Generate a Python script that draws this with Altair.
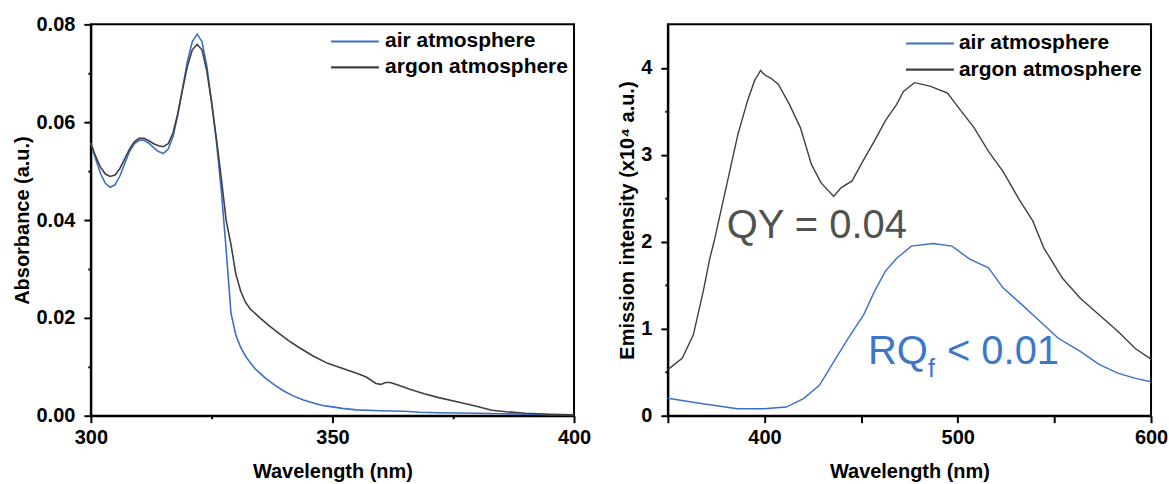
import altair as alt
import pandas as pd

# ---------------- data: absorbance (left) ----------------
air_abs_wl = [300, 301, 302, 303, 304, 305, 306, 307, 308, 309, 310, 311, 312, 313, 314, 315, 316, 317,
              318, 319, 320, 321, 322, 323, 324, 325, 326, 327, 328, 329, 330, 331, 332, 333, 334, 335,
              336, 337, 338, 340, 342, 344, 346, 348, 350, 352, 355, 360, 365, 368, 372, 380, 385, 390,
              395, 400]
air_abs_val = [0.0557, 0.0525, 0.0495, 0.0475, 0.0467, 0.0472, 0.0490, 0.0515, 0.0540, 0.0556, 0.0563,
               0.0563, 0.0557, 0.0548, 0.0540, 0.0536, 0.0545, 0.0570, 0.0615, 0.0670, 0.0725, 0.0765,
               0.0780, 0.0765, 0.0715, 0.0640, 0.0560, 0.0460, 0.0340, 0.0210, 0.0165, 0.0140, 0.0122,
               0.0108, 0.0096, 0.0087, 0.0078, 0.0070, 0.0063, 0.0050, 0.0040, 0.0032, 0.0026, 0.0021,
               0.0018, 0.0015, 0.0012, 0.0010, 0.0009, 0.0007, 0.0006, 0.0005, 0.0004, 0.0003, 0.0002,
               0.0002]

argon_abs_wl = [300, 301, 302, 303, 304, 305, 306, 307, 308, 309, 310, 311, 312, 313, 314, 315, 316, 317,
                318, 319, 320, 321, 322, 323, 324, 325, 326, 327, 328, 329, 330, 331, 332, 333, 335, 337,
                339, 341, 343, 346, 349, 352, 355, 357, 359, 360, 361, 362, 364, 366, 369, 372, 376, 380,
                383, 386, 390, 395, 400]
argon_abs_val = [0.0557, 0.0530, 0.0508, 0.0494, 0.0489, 0.0492, 0.0505, 0.0525, 0.0545, 0.0560, 0.0567,
                 0.0567, 0.0562, 0.0556, 0.0552, 0.0550, 0.0556, 0.0578, 0.0618, 0.0668, 0.0715, 0.0748,
                 0.0759, 0.0748, 0.0705, 0.0640, 0.0565, 0.0485, 0.0400, 0.0350, 0.0290, 0.0255, 0.0232,
                 0.0218, 0.0200, 0.0183, 0.0168, 0.0153, 0.0140, 0.0122, 0.0107, 0.0097, 0.0087, 0.0079,
                 0.0066, 0.0064, 0.0068, 0.0068, 0.0061, 0.0054, 0.0045, 0.0037, 0.0028, 0.0019, 0.0011,
                 0.0008, 0.0005, 0.0003, 0.0002]

# ---------------- data: emission (right), x10^4 a.u. ----------------
air_em_wl = [350, 367.2, 386, 399.8, 411.2, 420.4, 428.4, 435.8, 443.3, 451.3, 456.9, 462.5, 468.4,
             476, 487.3, 497, 506.2, 515.9, 523.4, 533, 542.8, 552, 563.4, 573.1, 582.8, 592, 600]
air_em_val = [0.20, 0.14, 0.08, 0.08, 0.10, 0.20, 0.35, 0.62, 0.89, 1.16, 1.43, 1.66, 1.81,
              1.95, 1.98, 1.95, 1.80, 1.70, 1.47, 1.28, 1.08, 0.89, 0.74, 0.59, 0.49, 0.43, 0.39]

argon_em_wl = [350, 357.4, 363.2, 368.3, 371.7, 373.9, 378.6, 382.4, 386.3, 391.2, 394.8, 398, 400,
               403.4, 407.2, 412.9, 418.6, 424.3, 429.2, 435.8, 439.6, 445.3, 451, 456.9, 462.5, 468.4,
               471.9, 477.6, 485.6, 494.7, 500.5, 508.5, 515.9, 523.4, 531.4, 538.8, 544.5, 554.2,
               563.4, 573.1, 582.8, 592, 600]
argon_em_val = [0.53, 0.66, 0.93, 1.43, 1.81, 2.00, 2.47, 2.85, 3.24, 3.62, 3.85, 3.97, 3.92,
                3.88, 3.81, 3.58, 3.31, 2.89, 2.68, 2.52, 2.62, 2.70, 2.93, 3.16, 3.39, 3.58,
                3.73, 3.83, 3.79, 3.71, 3.54, 3.31, 3.04, 2.81, 2.50, 2.24, 1.93, 1.58,
                1.35, 1.16, 0.97, 0.77, 0.65]

series_names = ["air atmosphere", "argon atmosphere"]
series_colors = ["#3b6fc6", "#404040"]
legend_colors = ["#3b6fc6", "#555555"]

FONT = "Liberation Sans"


def series_df(wl_air, v_air, wl_ar, v_ar):
    a = pd.DataFrame({"wl": wl_air, "v": v_air, "series": series_names[0]})
    b = pd.DataFrame({"wl": wl_ar, "v": v_ar, "series": series_names[1]})
    return pd.concat([a, b], ignore_index=True)


abs_df = series_df(air_abs_wl, air_abs_val, argon_abs_wl, argon_abs_val)
em_df = series_df(air_em_wl, air_em_val, argon_em_wl, argon_em_val)

color_enc = alt.Color("series:N", scale=alt.Scale(domain=series_names, range=series_colors), legend=None)
legend_color_enc = alt.Color("series:N", scale=alt.Scale(domain=series_names, range=legend_colors), legend=None)


def tick_size(test):
    return {"condition": {"test": test, "value": 7}, "value": 3}


# ---------------- left panel ----------------
xl = alt.X("wl:Q", scale=alt.Scale(domain=[300, 400], nice=False, zero=False),
           axis=alt.Axis(title="Wavelength (nm)", values=[300, 325, 350, 375, 400], format="d",
                         labelExpr="datum.value % 50 === 0 ? datum.label : ''",
                         tickSize=tick_size("datum.value % 50 === 0"), labelOverlap=False,
                         labelFlush=False, labelPadding=5, titlePadding=14))
yl = alt.Y("v:Q", scale=alt.Scale(domain=[0, 0.08], nice=False, zero=False),
           axis=alt.Axis(title="Absorbance (a.u.)",
                         values=[0, 0.01, 0.02, 0.03, 0.04, 0.05, 0.06, 0.07, 0.08], format=".2f",
                         labelExpr="round(datum.value * 100) % 2 === 0 ? datum.label : ''",
                         tickSize=tick_size("round(datum.value * 100) % 2 === 0"), labelOverlap=False,
                         labelPadding=9, titlePadding=4))

abs_lines = alt.Chart(abs_df).mark_line(strokeWidth=1.6).encode(x=xl, y=yl, color=color_enc, detail="series:N")

leg_l = pd.DataFrame({"series": series_names, "wl": [349.7, 349.7], "wl2": [359.6, 359.6],
                      "wlt": [360.9, 360.9], "v": [0.0765, 0.0712]})
leg_l_rule = alt.Chart(leg_l).mark_rule(strokeWidth=2.2).encode(
    x=xl, x2=alt.X2("wl2:Q"), y=yl, color=legend_color_enc)
leg_l_text = alt.Chart(leg_l).mark_text(align="left", baseline="middle", fontSize=21, fontWeight="bold",
                                        font=FONT, color="black").encode(
    x=alt.X("wlt:Q", scale=alt.Scale(domain=[300, 400], nice=False, zero=False)), y=yl, text="series:N")

left = alt.layer(abs_lines, leg_l_rule, leg_l_text).properties(width=484, height=392)

# ---------------- right panel ----------------
xr = alt.X("wl:Q", scale=alt.Scale(domain=[350, 600], nice=False, zero=False),
           axis=alt.Axis(title="Wavelength (nm)", values=[350, 400, 450, 500, 550, 600], format="d",
                         labelExpr="datum.value % 100 === 0 ? datum.label : ''",
                         tickSize=tick_size("datum.value % 50 === 0"), labelOverlap=False,
                         labelFlush=False, labelPadding=5, titlePadding=14))
yr = alt.Y("v:Q", scale=alt.Scale(domain=[0, 4.5], nice=False, zero=False),
           axis=alt.Axis(title="Emission intensity (x10⁴ a.u.)",
                         values=[0, 0.5, 1, 1.5, 2, 2.5, 3, 3.5, 4], format="~g",
                         labelExpr="datum.value % 1 === 0 ? datum.label : ''",
                         tickSize=tick_size("datum.value % 1 === 0"), labelOverlap=False,
                         labelPadding=9, titlePadding=3))

em_lines = alt.Chart(em_df).mark_line(strokeWidth=1.4).encode(x=xr, y=yr, color=color_enc, detail="series:N")

leg_r = pd.DataFrame({"series": series_names, "wl": [473.2, 473.2], "wl2": [498.0, 498.0],
                      "wlt": [500.6, 500.6], "v": [4.28, 3.98]})
leg_r_rule = alt.Chart(leg_r).mark_rule(strokeWidth=2.2).encode(
    x=xr, x2=alt.X2("wl2:Q"), y=yr, color=legend_color_enc)
leg_r_text = alt.Chart(leg_r).mark_text(align="left", baseline="middle", fontSize=21, fontWeight="bold",
                                        font=FONT, color="black").encode(
    x=alt.X("wlt:Q", scale=alt.Scale(domain=[350, 600], nice=False, zero=False)), y=yr, text="series:N")

qy_df = pd.DataFrame({"wl": [380.5], "v": [2.04], "t": ["QY = 0.04"]})
qy_text = alt.Chart(qy_df).mark_text(align="left", baseline="alphabetic", fontSize=40, font=FONT,
                                     color="#4f534f").encode(x=xr, y=yr, text="t:N")

rq_main_df = pd.DataFrame({"wl": [453.5, 494.4], "v": [0.59, 0.59], "t": ["RQ", "< 0.01"]})
rq_main = alt.Chart(rq_main_df).mark_text(align="left", baseline="alphabetic", fontSize=40, font=FONT,
                                          color="#3c78c8").encode(x=xr, y=yr, text="t:N")
rq_sub_df = pd.DataFrame({"wl": [484.6], "v": [0.45], "t": ["f"]})
rq_sub = alt.Chart(rq_sub_df).mark_text(align="left", baseline="alphabetic", fontSize=25, font=FONT,
                                        color="#3c78c8").encode(x=xr, y=yr, text="t:N")

right = alt.layer(em_lines, leg_r_rule, leg_r_text, qy_text, rq_main, rq_sub).properties(width=484, height=392)

chart = alt.hconcat(left, right, spacing=24).properties(
    padding={"left": 11, "top": 13, "right": 0, "bottom": 0}
).configure_view(stroke="black", strokeWidth=2).configure_axis(
    labelFont=FONT, titleFont=FONT, labelFontSize=20, labelFontWeight="bold", titleFontSize=20,
    titleFontWeight="bold", labelColor="black", titleColor="black", domainColor="black", domainWidth=2,
    tickColor="black", tickWidth=2, grid=False
)

chart.save("out.html", embed_options={"renderer": "svg", "actions": False})
